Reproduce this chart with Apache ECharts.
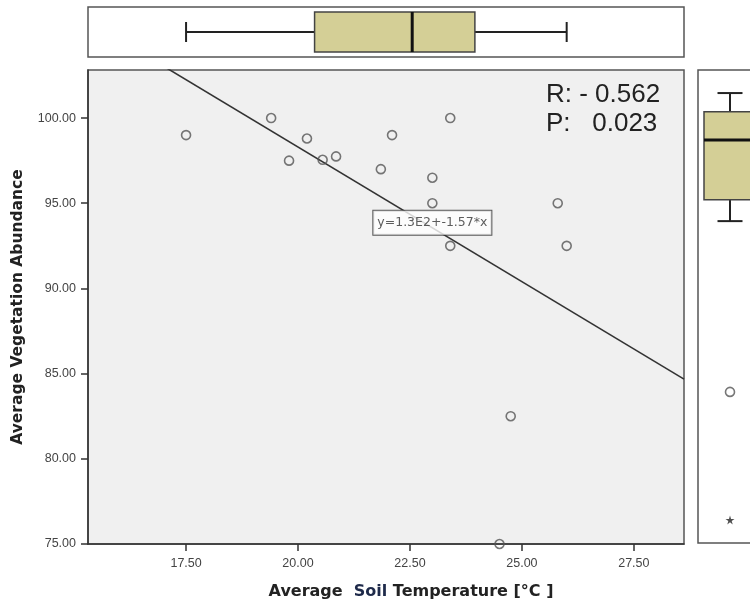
<!DOCTYPE html>
<html>
<head>
<meta charset="utf-8">
<script src="https://cdn.jsdelivr.net/npm/echarts@6/dist/echarts.min.js"></script>
<style>
html,body{margin:0;padding:0;background:#fff;}
#chart{width:750px;height:605px;}
</style>
</head>
<body>
<div id="chart"></div>
<script>
// ---- data ----
const soilTemp = [17.5, 19.4, 20.2, 19.8, 20.55, 20.85, 21.85, 22.1, 23.4, 23.0, 23.0, 23.4, 25.8, 26.0, 24.75, 24.5];
const vegAbundance = [99.0, 100.0, 98.8, 97.5, 97.55, 97.75, 97.0, 99.0, 100.0, 96.5, 95.0, 92.5, 95.0, 92.5, 82.5, 75.0];
// box plot stats: [low whisker, Q1, median, Q3, high whisker]
const tempBoxStats = [17.5, 20.37, 22.55, 23.95, 26.0];
const vegBoxStats = [92.5, 93.75, 97.25, 98.9, 100.0];
const vegOutliers = [82.5];
const vegExtremes = [75.0];
// fit line y = a + b*x
const fitIntercept = 129.9;
const fitSlope = -1.58;
const fitLabel = 'y=1.3E2+-1.57*x';
const fitLabelAtX = 23.0;
const xTicks = [17.5, 20.0, 22.5, 25.0, 27.5];
const yTicks = [75, 80, 85, 90, 95, 100];
const statR = 'R: - 0.562';
const statP = 'P:   0.023';
const xTitle = ['Average', 'Soil', 'Temperature [°C ]'];
const yTitle = 'Average Vegetation Abundance';

const X_MIN = 15.31, X_MAX = 28.62;
const Y_MIN = 75, Y_MAX = 102.82;
const YR_MIN = 73.65, YR_MAX = 101.35;

const chart = echarts.init(document.getElementById('chart'), null, {renderer: 'canvas'});

const BOX_FILL = '#d4cf96';
function boxRender(horizontal, boxHalf, capHalf) {
  return function (params, api) {
    const P = v => horizontal ? api.coord([v, 0]) : api.coord([0, v]);
    const vals = [0,1,2,3,4].map(i => api.value(i));
    const pts = vals.map(P);
    const c = horizontal ? pts[0][1] : pts[0][0];
    const a = i => horizontal ? pts[i][0] : pts[i][1];
    const seg = (p, q, off) => horizontal
      ? {x1: p, y1: c + off, x2: q, y2: c + off}
      : {x1: c + off, y1: p, x2: c + off, y2: q};
    const cross = (p, h) => horizontal
      ? {x1: p, y1: c - h, x2: p, y2: c + h}
      : {x1: c - h, y1: p, x2: c + h, y2: p};
    const lineStyle = {stroke: '#222', lineWidth: 2};
    const q1 = a(1), q3 = a(3);
    const rect = horizontal
      ? {x: Math.min(q1, q3), y: c - boxHalf, width: Math.abs(q3 - q1), height: boxHalf * 2}
      : {x: c - boxHalf, y: Math.min(q1, q3), width: boxHalf * 2, height: Math.abs(q3 - q1)};
    return {
      type: 'group',
      children: [
        {type: 'line', shape: seg(a(0), a(1), 0), style: lineStyle},
        {type: 'line', shape: seg(a(3), a(4), 0), style: lineStyle},
        {type: 'line', shape: cross(a(0), capHalf), style: lineStyle},
        {type: 'line', shape: cross(a(4), capHalf), style: lineStyle},
        {type: 'rect', shape: rect, style: {fill: BOX_FILL, stroke: '#444', lineWidth: 1.5}},
        {type: 'line', shape: cross(a(2), boxHalf), style: {stroke: '#111', lineWidth: 3}}
      ]
    };
  };
}

const tickFont = {fontFamily: 'Liberation Sans', fontSize: 12.5, color: '#444'};

const option = {
  animation: false,
  backgroundColor: '#ffffff',
  grid: [
    {left: 88, top: 70, width: 596, height: 474, outerBoundsMode: 'none', containLabel: false, show: true, backgroundColor: '#f0f0f0', borderColor: '#555', borderWidth: 1.5},
    {left: 88, top: 7, width: 596, height: 50, outerBoundsMode: 'none', containLabel: false, show: true, backgroundColor: '#ffffff', borderColor: '#555', borderWidth: 1.5},
    {left: 698, top: 70, width: 64, height: 473, outerBoundsMode: 'none', containLabel: false, show: true, backgroundColor: '#ffffff', borderColor: '#555', borderWidth: 1.5}
  ],
  xAxis: [
    {
      gridIndex: 0, type: 'value', min: X_MIN, max: X_MAX,
      axisLine: {show: true, onZero: false, lineStyle: {color: '#333', width: 1.5}},
      axisTick: {show: true, length: 7, customValues: xTicks, lineStyle: {color: '#333', width: 1.5}},
      axisLabel: Object.assign({customValues: xTicks, margin: 13, formatter: v => v.toFixed(2)}, tickFont),
      splitLine: {show: false}
    },
    {gridIndex: 1, type: 'value', min: X_MIN, max: X_MAX, show: false, splitLine: {show: false}},
    {gridIndex: 2, type: 'category', data: ['v'], show: false}
  ],
  yAxis: [
    {
      gridIndex: 0, type: 'value', min: Y_MIN, max: Y_MAX,
      axisLine: {show: true, onZero: false, lineStyle: {color: '#333', width: 1.5}},
      axisTick: {show: true, length: 7, customValues: yTicks, lineStyle: {color: '#333', width: 1.5}},
      axisLabel: Object.assign({customValues: yTicks, margin: 12, formatter: v => v.toFixed(2)}, tickFont),
      splitLine: {show: false}
    },
    {gridIndex: 1, type: 'category', data: ['t'], show: false},
    {gridIndex: 2, type: 'value', min: YR_MIN, max: YR_MAX, show: false, splitLine: {show: false}}
  ],
  series: [
    {
      type: 'line', xAxisIndex: 0, yAxisIndex: 0, clip: true,
      data: [[X_MIN, fitIntercept + fitSlope * X_MIN], [X_MAX, fitIntercept + fitSlope * X_MAX]],
      symbol: 'none', lineStyle: {color: '#333', width: 1.6}, z: 2
    },
    {
      type: 'scatter', xAxisIndex: 0, yAxisIndex: 0,
      data: soilTemp.map((x, i) => [x, vegAbundance[i]]),
      symbol: 'circle', symbolSize: 9,
      itemStyle: {color: 'rgba(0,0,0,0)', borderColor: '#555', borderWidth: 1.6}, z: 3
    },
    {
      type: 'scatter', xAxisIndex: 0, yAxisIndex: 0, symbolSize: 0, z: 5,
      data: [[fitLabelAtX, fitIntercept + fitSlope * fitLabelAtX]],
      label: {
        show: true, position: 'inside', offset: [0, -5], formatter: fitLabel,
        fontFamily: 'DejaVu Sans', fontSize: 12.5, color: '#333',
        backgroundColor: '#ffffff', borderColor: '#333', borderWidth: 1, padding: [6, 4, 5, 4]
      }
    },
    {
      type: 'custom', xAxisIndex: 1, yAxisIndex: 1,
      renderItem: boxRender(true, 20, 10),
      encode: {x: [0, 1, 2, 3, 4], y: 5},
      data: [tempBoxStats.concat([0])]
    },
    {
      type: 'custom', xAxisIndex: 2, yAxisIndex: 2,
      renderItem: boxRender(false, 26, 12.5),
      encode: {y: [0, 1, 2, 3, 4], x: 5},
      data: [vegBoxStats.concat([0])]
    },
    {
      type: 'scatter', xAxisIndex: 2, yAxisIndex: 2,
      data: vegOutliers.map(v => [0, v]),
      symbol: 'circle', symbolSize: 9,
      itemStyle: {color: 'rgba(0,0,0,0)', borderColor: '#555', borderWidth: 1.6}
    },
    {
      type: 'scatter', xAxisIndex: 2, yAxisIndex: 2,
      data: vegExtremes.map(v => [0, v]),
      symbol: 'path://M50,0 L61,35 L98,35 L68,57 L79,91 L50,70 L21,91 L32,57 L2,35 L39,35 Z',
      symbolSize: 9, itemStyle: {color: '#222'}
    }
  ],
  graphic: [
    {
      type: 'text', left: 546, top: 80, z: 10,
      style: {text: statR + '\n' + statP, fontFamily: 'Liberation Sans', fontSize: 26, lineHeight: 29, fill: '#222'}
    },
    {
      type: 'text', x: 18, y: 307, rotation: Math.PI / 2, z: 10,
      style: {text: yTitle, fontFamily: 'DejaVu Sans', fontWeight: 'bold', fontSize: 15.5, fill: '#222', align: 'center', verticalAlign: 'middle'}
    },
    {
      type: 'text', x: 411, y: 592, z: 10,
      style: {
        text: '{a|' + xTitle[0] + '}  {s|' + xTitle[1] + '} {a|' + xTitle[2] + '}',
        align: 'center', verticalAlign: 'middle',
        fontFamily: 'DejaVu Sans', fontWeight: 'bold', fontSize: 16,
        rich: {
          a: {fontFamily: 'DejaVu Sans', fontWeight: 'bold', fontSize: 16, fill: '#222'},
          s: {fontFamily: 'DejaVu Sans', fontWeight: 'bold', fontSize: 16, fill: '#1e2a4a'}
        }
      }
    }
  ]
};
chart.setOption(option);
</script>
</body>
</html>
